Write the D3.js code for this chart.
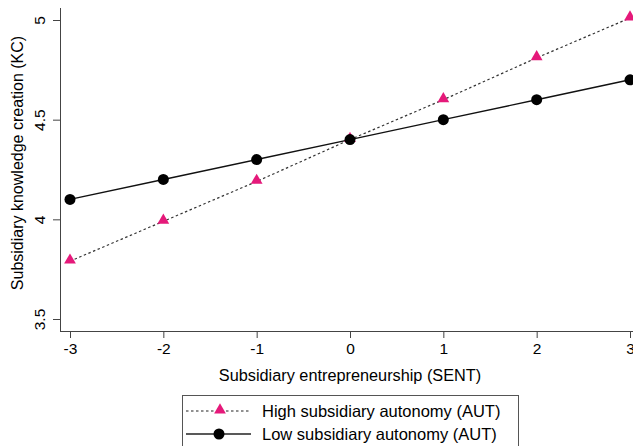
<!DOCTYPE html>
<html>
<head>
<meta charset="utf-8">
<script src="https://cdn.jsdelivr.net/npm/d3@7"></script>
<style>
  body { margin: 0; background: #fff; }
  svg { font-family: "Liberation Sans", Arial, sans-serif; }
</style>
</head>
<body>
<svg id="chart" width="633" height="446"></svg>
<script>
const sent = [-3, -2, -1, 0, 1, 2, 3];
const highAut = [3.79, 3.99, 4.19, 4.40, 4.60, 4.81, 5.01];
const lowAut = [4.10, 4.20, 4.30, 4.40, 4.50, 4.60, 4.70];
const yTicks = [3.5, 4, 4.5, 5];
const seriesNames = ["High subsidiary autonomy (AUT)", "Low subsidiary autonomy (AUT)"];

const pink = "#e5197a";
const svg = d3.select("#chart");

const x = d3.scaleLinear().domain([-3, 3]).range([70, 630]);
const y = d3.scaleLinear().domain([3.5, 5]).range([319, 20]);

// axes
const xAxis = svg.append("g")
    .attr("transform", "translate(0,331)")
    .call(d3.axisBottom(x).tickValues(sent).tickSize(7).tickPadding(5).tickFormat(d => String(d)));
xAxis.select(".domain").attr("d", "M60,0.5H633");
xAxis.selectAll("text").style("font-size", "15.5px").attr("fill", "#000");

const yAxis = svg.append("g")
    .attr("transform", "translate(60,0)")
    .call(d3.axisLeft(y).tickValues(yTicks).tickSize(7).tickPadding(6).tickFormat(d => d));
yAxis.select(".domain").attr("d", "M0.5,8V331");
yAxis.selectAll(".tick text")
    .style("font-size", "15.5px")
    .attr("fill", "#000")
    .attr("text-anchor", "middle")
    .attr("dy", 0)
    .attr("transform", "rotate(-90)")
    .attr("x", 0)
    .attr("y", -15);
svg.selectAll(".domain, .tick line").attr("stroke", "#444");

svg.append("text")
    .attr("x", 350).attr("y", 381)
    .attr("text-anchor", "middle")
    .style("font-size", "16.3px")
    .text("Subsidiary entrepreneurship (SENT)");

svg.append("text")
    .attr("transform", "translate(23,163) rotate(-90)")
    .attr("text-anchor", "middle")
    .style("font-size", "16px")
    .text("Subsidiary knowledge creation (KC)");

const line = d3.line().x((d, i) => x(sent[i])).y(d => y(d));
const tri = d3.symbol().type(d3.symbolTriangle).size(60);

// high autonomy
svg.append("path").datum(highAut)
    .attr("d", line).attr("fill", "none")
    .attr("stroke", "#333").attr("stroke-width", 1.2)
    .attr("stroke-dasharray", "2.5,2.5");
// low autonomy
svg.append("path").datum(lowAut)
    .attr("d", line).attr("fill", "none")
    .attr("stroke", "#111").attr("stroke-width", 1.4);

svg.append("g").selectAll("path").data(highAut).join("path")
    .attr("d", tri)
    .attr("transform", (d, i) => `translate(${x(sent[i])},${y(d) - 1})`)
    .attr("fill", pink);

svg.append("g").selectAll("circle").data(lowAut).join("circle")
    .attr("cx", (d, i) => x(sent[i]))
    .attr("cy", d => y(d))
    .attr("r", 5.5)
    .attr("fill", "#000");

// legend
const lg = svg.append("g");
lg.append("rect")
    .attr("x", 182.5).attr("y", 395.5)
    .attr("width", 336).attr("height", 60)
    .attr("fill", "#fff").attr("stroke", "#555");

const rows = [
  {name: seriesNames[0], dash: "2.5,2.5", sym: "tri"},
  {name: seriesNames[1], dash: null, sym: "dot"}
];
rows.forEach((r, i) => {
  const yy = 411 + i * 23;
  lg.append("line")
      .attr("x1", 186).attr("x2", 251).attr("y1", yy).attr("y2", yy)
      .attr("stroke", "#222").attr("stroke-width", r.dash ? 1.2 : 1.4)
      .attr("stroke-dasharray", r.dash);
  if (r.sym === "tri") {
    lg.append("path").attr("d", tri).attr("transform", `translate(220,${yy - 1})`).attr("fill", pink);
  } else {
    lg.append("circle").attr("cx", 219).attr("cy", yy).attr("r", 5.5).attr("fill", "#000");
  }
  lg.append("text")
      .attr("x", 262).attr("y", yy + 6)
      .style("font-size", "16.5px")
      .text(r.name);
});
</script>
</body>
</html>
